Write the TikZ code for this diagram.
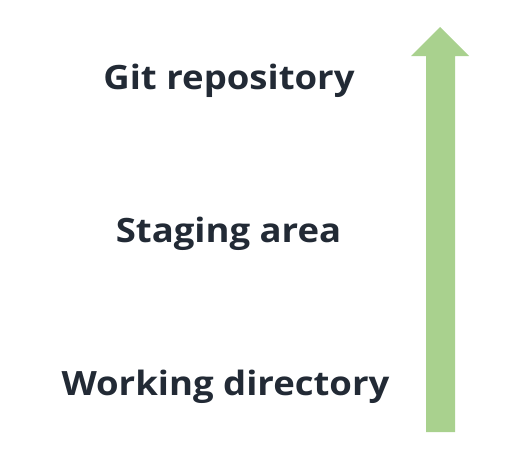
\documentclass[tikz,border=0pt]{standalone}
\usepackage{fontspec}
\setmainfont{Open Sans}
\newfontfamily\lblfont{Open Sans}[FakeStretch=1.09]
\definecolor{txt}{HTML}{222A35}
\definecolor{arrowgreen}{HTML}{A9D18E}
\begin{document}
\begin{tikzpicture}[x=1pt,y=-1pt,
  lbl/.style={font=\lblfont\fontsize{33.5}{40}\selectfont\bfseries, text=txt, anchor=base, inner sep=0pt}]
\useasboundingbox (0,0) rectangle (521,469);
\fill[arrowgreen] (426,432) -- (426,56) -- (411,56) -- (440,27) -- (469,56) -- (455,56) -- (455,432) -- cycle;
\node[lbl] (git) at (229,89) {Git repository};
\node[lbl] (stage) at (228.5,242) {Staging area};
\node[lbl] (work) at (225.5,395) {Working directory};
\end{tikzpicture}
\end{document}
